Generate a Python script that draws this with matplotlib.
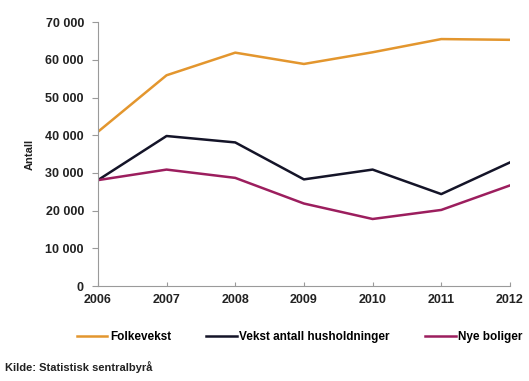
import matplotlib.pyplot as plt
from matplotlib.ticker import FuncFormatter

plt.rcParams['font.family'] = ['Liberation Sans', 'DejaVu Sans']

years = [2006, 2007, 2008, 2009, 2010, 2011, 2012]
folkevekst = [40900, 55900, 61900, 58900, 62000, 65500, 65300]
husholdninger = [28100, 39800, 38100, 28300, 30900, 24400, 32800]
nye_boliger = [28100, 30900, 28700, 21900, 17800, 20200, 26700]

fig = plt.figure(figsize=(5.29, 3.81), dpi=100)
ax = fig.add_axes([0.185, 0.249, 0.779, 0.693])

ax.plot(years, folkevekst, color='#E3962E', lw=1.8, label='Folkevekst')
ax.plot(years, husholdninger, color='#141428', lw=1.8, label='Vekst antall husholdninger')
ax.plot(years, nye_boliger, color='#9C1E5E', lw=1.8, label='Nye boliger')

ax.set_xlim(2006, 2012)
ax.set_ylim(0, 70000)
ax.set_yticks(range(0, 70001, 10000))
ax.set_xticks(years)
ax.yaxis.set_major_formatter(FuncFormatter(
    lambda v, p: '0' if v == 0 else f'{int(v):,}'.replace(',', ' ')))

for s in ['top', 'right']:
    ax.spines[s].set_visible(False)
for s in ['left', 'bottom']:
    ax.spines[s].set_color('#9a9a9a')
    ax.spines[s].set_linewidth(0.8)
ax.tick_params(axis='y', direction='out', length=4, color='#9a9a9a',
               labelsize=9, pad=6)
ax.tick_params(axis='x', direction='in', length=3, color='#9a9a9a',
               labelsize=9, pad=6)
for lbl in ax.get_xticklabels() + ax.get_yticklabels():
    lbl.set_fontweight('bold')
    lbl.set_color('#222222')

ax.set_ylabel('Antall', fontsize=8, fontweight='bold', color='#222222', labelpad=8)

ax.legend(loc='upper center', bbox_to_anchor=(0.49, -0.13), ncol=3, frameon=False,
          prop={'weight': 'bold', 'size': 8.5}, handlelength=2.6,
          handletextpad=0.2, columnspacing=3.0)

fig.text(0.01, 0.025, 'Kilde: Statistisk sentralbyrå', fontsize=8,
         fontweight='bold', color='#222222')

fig.savefig('out.png', dpi=100, facecolor='white')
